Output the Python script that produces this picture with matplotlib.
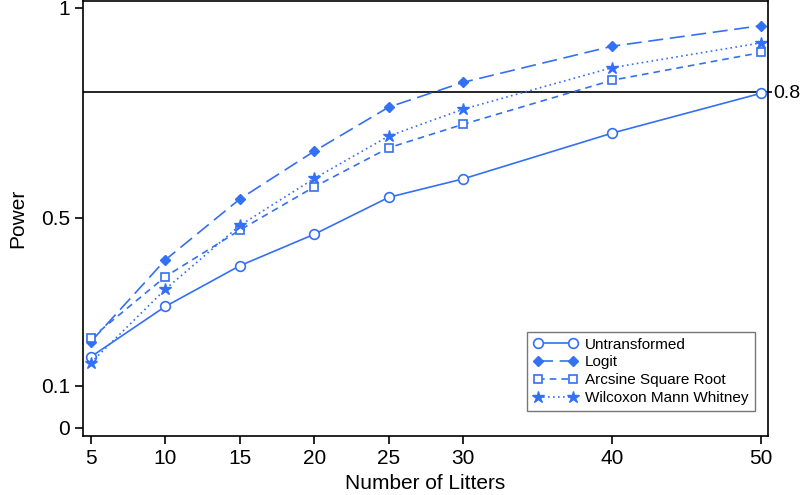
import matplotlib
matplotlib.use("Agg")
import matplotlib.pyplot as plt

litters = [5, 10, 15, 20, 25, 30, 40, 50]
untransformed = [0.169, 0.289, 0.386, 0.461, 0.549, 0.593, 0.702, 0.797]
logit = [0.205, 0.400, 0.545, 0.659, 0.764, 0.823, 0.909, 0.958]
arcsine = [0.213, 0.360, 0.471, 0.574, 0.667, 0.723, 0.828, 0.894]
wilcoxon = [0.155, 0.330, 0.482, 0.594, 0.695, 0.759, 0.858, 0.917]

ytick_vals = [0, 0.1, 0.5, 1]
ytick_labels = ["0", "0.1", "0.5", "1"]
target = 0.8

plt.rcParams["font.family"] = ["Liberation Sans", "DejaVu Sans"]
blue = "#3470f4"

fig = plt.figure(figsize=(8, 4.95), dpi=100)
ax = fig.add_axes([0.104, 0.1192, 0.856, 0.8788])

ax.axhline(target, color="black", lw=1.2, zorder=1)

ax.plot(litters, untransformed, color=blue, lw=1.2, ls="-", marker="o",
        ms=7, mfc="white", mec=blue, mew=1.2, label="Untransformed")
ax.plot(litters, logit, color=blue, lw=1.2, dashes=(9, 4), marker="D",
        ms=5, mfc=blue, mec=blue, label="Logit")
ax.plot(litters, arcsine, color=blue, lw=1.2, dashes=(4, 3), marker="s",
        ms=6, mfc="white", mec=blue, mew=1.2, label="Arcsine Square Root")
ax.plot(litters, wilcoxon, color=blue, lw=1.2, dashes=(1, 2), marker="*",
        ms=9, mfc=blue, mec=blue, label="Wilcoxon Mann Whitney")

ax.set_xlim(4.48, 50.45)
ax.set_ylim(-0.0198, 1.0167)
ax.set_xticks(litters)
ax.set_yticks(ytick_vals)
ax.set_yticklabels(ytick_labels)
ax.tick_params(direction="out", length=6, width=1.2, labelsize=15, colors="black")
ax.set_xlabel("Number of Litters", fontsize=15, labelpad=4)
ax.set_ylabel("Power", fontsize=15, labelpad=10)
for s in ax.spines.values():
    s.set_linewidth(1.2)

sec = ax.secondary_yaxis("right")
sec.set_yticks([target])
sec.set_yticklabels(["0.8"])
sec.tick_params(direction="out", length=3, width=1.2, labelsize=14, pad=1)
sec.spines["right"].set_visible(False)

leg = ax.legend(loc="lower right", bbox_to_anchor=(0.985, 0.05), fontsize=11,
                frameon=True, fancybox=False, edgecolor="#555555",
                numpoints=2, handlelength=2.9, handletextpad=0.5,
                borderpad=0.4, labelspacing=0.25, borderaxespad=0.2)
leg.get_frame().set_linewidth(1.0)

fig.savefig("out.png", dpi=100)
